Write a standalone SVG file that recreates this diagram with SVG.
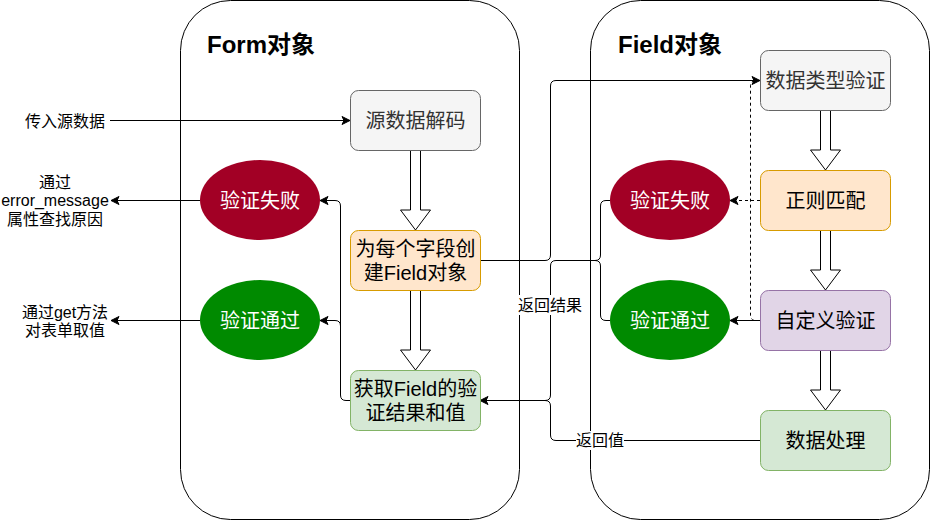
<svg xmlns="http://www.w3.org/2000/svg" width="931" height="521" viewBox="0 0 931 521">
<defs>
<marker id="arr" markerUnits="userSpaceOnUse" markerWidth="10" markerHeight="10" refX="9" refY="5" orient="auto">
<path d="M1,1 L9,5 L1,9 L3,5 Z" fill="#000" stroke="#000" stroke-width="1"/>
</marker>
<style>
text{font-family:"Liberation Sans","Noto Sans CJK SC",sans-serif;}
.cont{fill:#fff;stroke:#000;stroke-width:1;}
.title{font-size:24px;font-weight:bold;fill:#000;}
.node text{font-size:20px;text-anchor:middle;fill:#000;}
.gray rect{fill:#f5f5f5;stroke:#666;}
.gray text{fill:#333;}
.orange rect{fill:#ffe6cc;stroke:#d79b00;}
.green rect{fill:#d5e8d4;stroke:#82b366;}
.purple rect{fill:#e1d5e7;stroke:#9673a6;}
.red ellipse{fill:#a20025;stroke:#6f0000;stroke-width:0;}
.ok ellipse{fill:#008a00;stroke:#005700;stroke-width:0;}
.red text,.ok text{fill:#fff;}
.block{fill:#fff;stroke:#000;stroke-width:1;}
.edge{fill:none;stroke:#000;stroke-width:1;}
.dash{stroke-dasharray:3,3;}
.lbl{font-size:16px;fill:#000;}
</style>
</defs>
<rect x="0" y="0" width="931" height="521" fill="#fff"/>
<g id="form-container">
<rect class="cont" x="180.5" y="0.5" width="339" height="519" rx="50" ry="50"/>
<text class="title" x="207" y="53">Form对象</text>
</g>
<g id="field-container">
<rect class="cont" x="590.5" y="0.5" width="339" height="519" rx="50" ry="50"/>
<text class="title" x="618" y="53">Field对象</text>
</g>

<g id="connectors">
<path class="edge" d="M110,120.5 H350" marker-end="url(#arr)"/>
<path class="edge" d="M200,200.5 H111" marker-end="url(#arr)"/>
<path class="edge" d="M200,320.5 H111" marker-end="url(#arr)"/>
<path class="edge" d="M350,400.5 H346 Q340.5,400.5 340.5,395 V206 Q340.5,200.5 335,200.5 H320" marker-end="url(#arr)"/>
<path class="edge" d="M340.5,395 V326 Q340.5,320.5 335,320.5 H320" marker-end="url(#arr)"/>
<path class="edge" d="M480,260.5 H545 Q550.5,260.5 550.5,255 V86 Q550.5,80.5 556,80.5 H760" marker-end="url(#arr)"/>
<path class="edge" d="M610,200.5 H606 Q600.5,200.5 600.5,206 V255 Q600.5,260.5 595,260.5 H556 Q550.5,260.5 550.5,266 V395 Q550.5,400.5 545,400.5 H480" marker-end="url(#arr)"/>
<path class="edge" d="M610,320.5 H606 Q600.5,320.5 600.5,315 V266 Q600.5,260.5 595,260.5"/>
<path class="edge" d="M760,440.5 H556 Q550.5,440.5 550.5,435 V406 Q550.5,400.5 545,400.5"/>
<path class="edge dash" d="M760,200.5 H730" marker-end="url(#arr)"/>
<path class="edge" d="M760,320.5 H730" marker-end="url(#arr)"/>
<path class="edge dash" d="M760,320.5 H756 Q750.5,320.5 750.5,315 V86 Q750.5,80.5 756,80.5"/>
<rect x="518" y="295" width="64" height="20" fill="#fff"/>
<text class="lbl" x="550" y="311" text-anchor="middle">返回结果</text>
<rect x="576" y="431" width="48" height="19" fill="#fff"/>
<text class="lbl" x="600" y="446" text-anchor="middle">返回值</text>
<polygon class="block" points="410.5,150 420.5,150 420.5,210 430.5,210 415.5,230 400.5,210 410.5,210"/>
<polygon class="block" points="410.5,290 420.5,290 420.5,350 430.5,350 415.5,370 400.5,350 410.5,350"/>
<polygon class="block" points="820.5,110 830.5,110 830.5,150 840.5,150 825.5,170 810.5,150 820.5,150"/>
<polygon class="block" points="820.5,230 830.5,230 830.5,270 840.5,270 825.5,290 810.5,270 820.5,270"/>
<polygon class="block" points="820.5,350 830.5,350 830.5,390 840.5,390 825.5,410 810.5,390 820.5,390"/>
</g>

<g id="label-input">
<text class="lbl" x="105" y="127" text-anchor="end">传入源数据</text>
</g>
<g id="label-error">
<text class="lbl" x="55" y="188" text-anchor="middle">通过</text>
<text class="lbl" x="55" y="206" text-anchor="middle">error_message</text>
<text class="lbl" x="55" y="225" text-anchor="middle">属性查找原因</text>
</g>
<g id="label-get">
<text class="lbl" x="65" y="318" text-anchor="middle">通过get方法</text>
<text class="lbl" x="65" y="336" text-anchor="middle">对表单取值</text>
</g>

<g id="decode" class="node gray">
<rect x="350.5" y="90.5" width="130" height="60" rx="8"/>
<text x="415.5" y="128">源数据解码</text>
</g>
<g id="create-field" class="node orange">
<rect x="350.5" y="230.5" width="130" height="60" rx="8"/>
<text x="415.5" y="256">为每个字段创</text>
<text x="415.5" y="280">建Field对象</text>
</g>
<g id="get-result" class="node green">
<rect x="350.5" y="370.5" width="130" height="60" rx="8"/>
<text x="415.5" y="396">获取Field的验</text>
<text x="415.5" y="420">证结果和值</text>
</g>
<g id="form-fail" class="node red">
<ellipse cx="260" cy="200" rx="60" ry="40"/>
<text x="260" y="208">验证失败</text>
</g>
<g id="form-pass" class="node ok">
<ellipse cx="260" cy="320" rx="60" ry="40"/>
<text x="260" y="328">验证通过</text>
</g>
<g id="field-fail" class="node red">
<ellipse cx="670" cy="200" rx="60" ry="40"/>
<text x="670" y="208">验证失败</text>
</g>
<g id="field-pass" class="node ok">
<ellipse cx="670" cy="320" rx="60" ry="40"/>
<text x="670" y="328">验证通过</text>
</g>
<g id="type-check" class="node gray">
<rect x="760.5" y="50.5" width="130" height="60" rx="8"/>
<text x="825.5" y="88">数据类型验证</text>
</g>
<g id="regex" class="node orange">
<rect x="760.5" y="170.5" width="130" height="60" rx="8"/>
<text x="825.5" y="208">正则匹配</text>
</g>
<g id="custom" class="node purple">
<rect x="760.5" y="290.5" width="130" height="60" rx="8"/>
<text x="825.5" y="328">自定义验证</text>
</g>
<g id="process" class="node green">
<rect x="760.5" y="410.5" width="130" height="60" rx="8"/>
<text x="825.5" y="448">数据处理</text>
</g>
</svg>
